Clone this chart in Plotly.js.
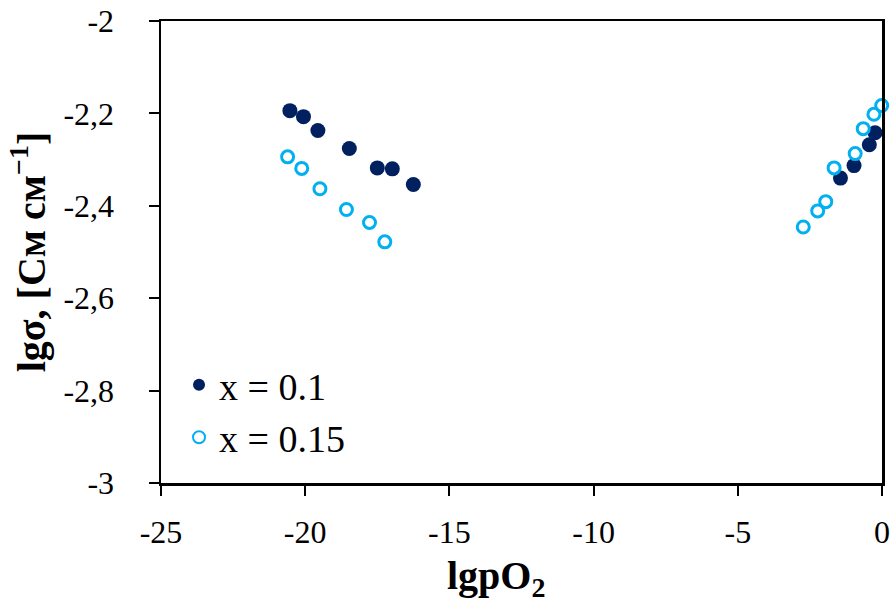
<!DOCTYPE html>
<html>
<head>
<meta charset="utf-8">
<script src="https://cdn.plot.ly/plotly-3.0.1.min.js"></script>
<style>
  html, body { margin: 0; padding: 0; background: #fff; }
  #chart { width: 891px; height: 604px; }
</style>
</head>
<body>
<div id="chart"></div>
<script>
// Conductivity vs. oxygen partial pressure for two compositions
const series1Name = 'x = 0.1';
const series1X = [-20.53, -20.06, -19.56, -18.47, -17.50, -16.98, -16.25, -1.44, -0.97, -0.44, -0.24];
const series1Y = [-2.194, -2.207, -2.237, -2.276, -2.318, -2.320, -2.354, -2.340, -2.313, -2.268, -2.242];

const series2Name = 'x = 0.15';
const series2X = [-20.61, -20.12, -19.49, -18.57, -17.77, -17.24, -2.73, -2.23, -1.95, -1.66, -0.93, -0.65, -0.28, -0.01];
const series2Y = [-2.294, -2.319, -2.363, -2.408, -2.436, -2.478, -2.446, -2.411, -2.391, -2.318, -2.287, -2.233, -2.202, -2.183];

const xTickVals = [-25, -20, -15, -10, -5, 0];
const xTickText = ['-25', '-20', '-15', '-10', '-5', '0'];
const yTickVals = [-3, -2.8, -2.6, -2.4, -2.2, -2];
const yTickText = ['-3', '-2,8', '-2,6', '-2,4', '-2,2', '-2'];

const xTitle = '<b>lgpO<sub>2</sub></b>';
const yTitle = '<b>lgσ, [См см<sup>−1</sup>]</b>';

const serif = 'Liberation Serif, Times New Roman, serif';

const traces = [
  {
    x: series1X, y: series1Y, name: series1Name,
    type: 'scatter', mode: 'markers',
    marker: { symbol: 'circle', size: 15, color: '#002060' },
    cliponaxis: false
  },
  {
    x: series2X, y: series2Y, name: series2Name,
    type: 'scatter', mode: 'markers',
    marker: { symbol: 'circle-open', size: 12, color: '#00B0F0', line: { width: 3, color: '#00B0F0' } },
    cliponaxis: false
  }
];

const axisCommon = {
  showgrid: false, zeroline: false,
  showline: true, linecolor: '#000', linewidth: 2.5, mirror: true,
  ticks: 'outside', ticklen: 10, tickwidth: 2, tickcolor: '#000',
  tickfont: { family: serif, size: 32, color: '#000' }
};

const layout = {
  width: 891, height: 604,
  margin: { l: 161, r: 9, t: 21, b: 121 },
  paper_bgcolor: '#fff', plot_bgcolor: '#fff',
  showlegend: true,
  legend: {
    x: 0.025, y: 0.28, xanchor: 'left', yanchor: 'top',
    bgcolor: 'rgba(0,0,0,0)',
    font: { family: serif, size: 38, color: '#000' },
    itemsizing: 'constant', tracegroupgap: 0
  },
  xaxis: Object.assign({}, axisCommon, {
    range: [-25, 0],
    tickvals: xTickVals, ticktext: xTickText,
    ticklabelstandoff: 9
  }),
  yaxis: Object.assign({}, axisCommon, {
    range: [-3, -2],
    tickvals: yTickVals, ticktext: yTickText,
    ticklabelstandoff: 28,
    title: { text: yTitle, font: { family: serif, size: 40, color: '#000' }, standoff: 6 }
  }),
  // x-axis title sits a little left of the plot centre
  annotations: [{
    text: xTitle, xref: 'paper', yref: 'paper',
    x: 0.4645, y: -0.148, xanchor: 'center', yanchor: 'top',
    showarrow: false,
    font: { family: serif, size: 40, color: '#000' }
  }]
};

Plotly.newPlot('chart', traces, layout, { displayModeBar: false, staticPlot: true });
</script>
</body>
</html>
